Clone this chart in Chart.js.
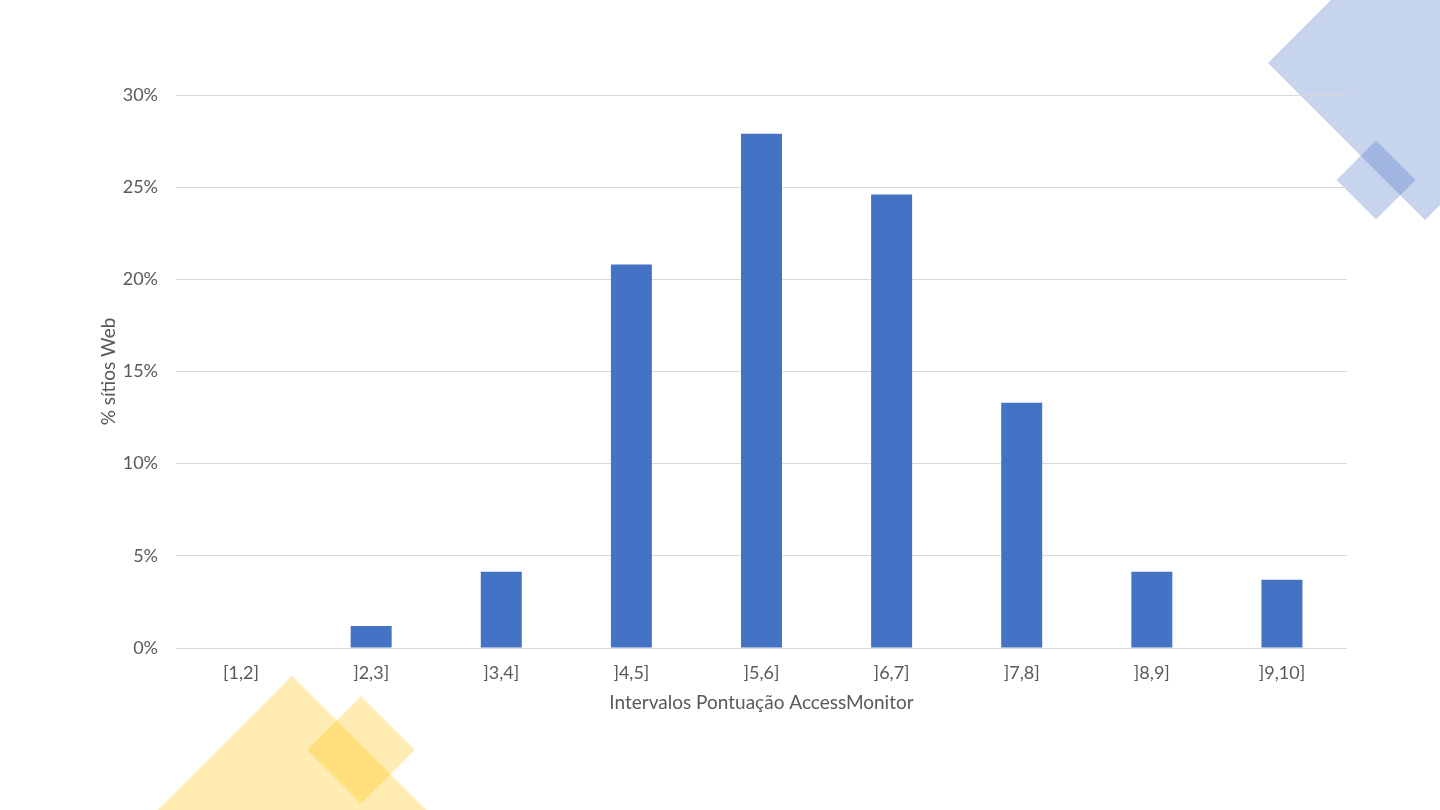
<!DOCTYPE html>
<html>
<head>
<meta charset="utf-8">
<script src="https://cdn.jsdelivr.net/npm/chart.js@4"></script>
<style>
  html, body { margin: 0; padding: 0; background: #ffffff; }
  #wrap { position: relative; width: 1440px; height: 810px; overflow: hidden; }
  .dia { position: absolute; transform: rotate(45deg); }
  .blue { background: rgba(68,114,196,0.3); }
  .yellow { background: rgba(255,192,0,0.3); }
  canvas { position: absolute; left: 0; top: 0; }
</style>
</head>
<body>
<div id="wrap">
  <div class="dia blue" style="left:1314px;top:-48px;width:222px;height:222px;"></div>
  <div class="dia blue" style="left:1348px;top:152px;width:56px;height:56px;"></div>
  <div class="dia yellow" style="left:197px;top:715px;width:190px;height:190px;"></div>
  <div class="dia yellow" style="left:323px;top:712px;width:76px;height:76px;"></div>
  <canvas id="c" width="1440" height="810"></canvas>
</div>
<script>
const categories = ["[1,2]", "]2,3]", "]3,4]", "]4,5]", "]5,6]", "]6,7]", "]7,8]", "]8,9]", "]9,10]"];
const percentSites = [0, 1.2, 4.13, 20.8, 27.9, 24.6, 13.3, 4.13, 3.7];
const yTicks = [0, 5, 10, 15, 20, 25, 30];
const xTitle = "Intervalos Pontuação AccessMonitor";
const yTitle = "% sítios Web";

const FONT = "Lato, 'Open Sans', sans-serif";

new Chart(document.getElementById('c'), {
  type: 'bar',
  data: {
    labels: categories,
    datasets: [{
      data: percentSites,
      backgroundColor: '#4472C4',
      borderWidth: 0,
      barPercentage: 0.315,
      categoryPercentage: 1
    }]
  },
  options: {
    responsive: false,
    animation: false,
    devicePixelRatio: 1,
    layout: { padding: { left: 176 - 90, right: 1440 - 1347, top: 95, bottom: 810 - 648 - 72 } },
    plugins: { legend: { display: false }, tooltip: { enabled: false } },
    scales: {
      x: {
        grid: { display: false, drawTicks: false },
        border: { display: false },
        ticks: { color: '#595959', font: { family: FONT, size: 18 }, padding: 14, maxRotation: 0 },
        title: { display: true, text: xTitle, color: '#595959', font: { family: FONT, size: 19 }, padding: { top: 4, bottom: 6 } },
        afterFit: s => { s.height = 72; }
      },
      y: {
        min: 0, max: 30,
        afterBuildTicks: s => { s.ticks = yTicks.map(v => ({ value: v })); },
        grid: { color: '#D9D9D9', lineWidth: 1, drawTicks: false },
        border: { display: false },
        ticks: { color: '#595959', font: { family: FONT, size: 18 }, padding: 18, callback: v => v + '%' },
        title: { display: true, text: yTitle, color: '#595959', font: { family: FONT, size: 19 }, padding: { top: 11, bottom: 4 } },
        afterFit: s => { s.width = 90; }
      }
    }
  }
});
</script>
</body>
</html>
